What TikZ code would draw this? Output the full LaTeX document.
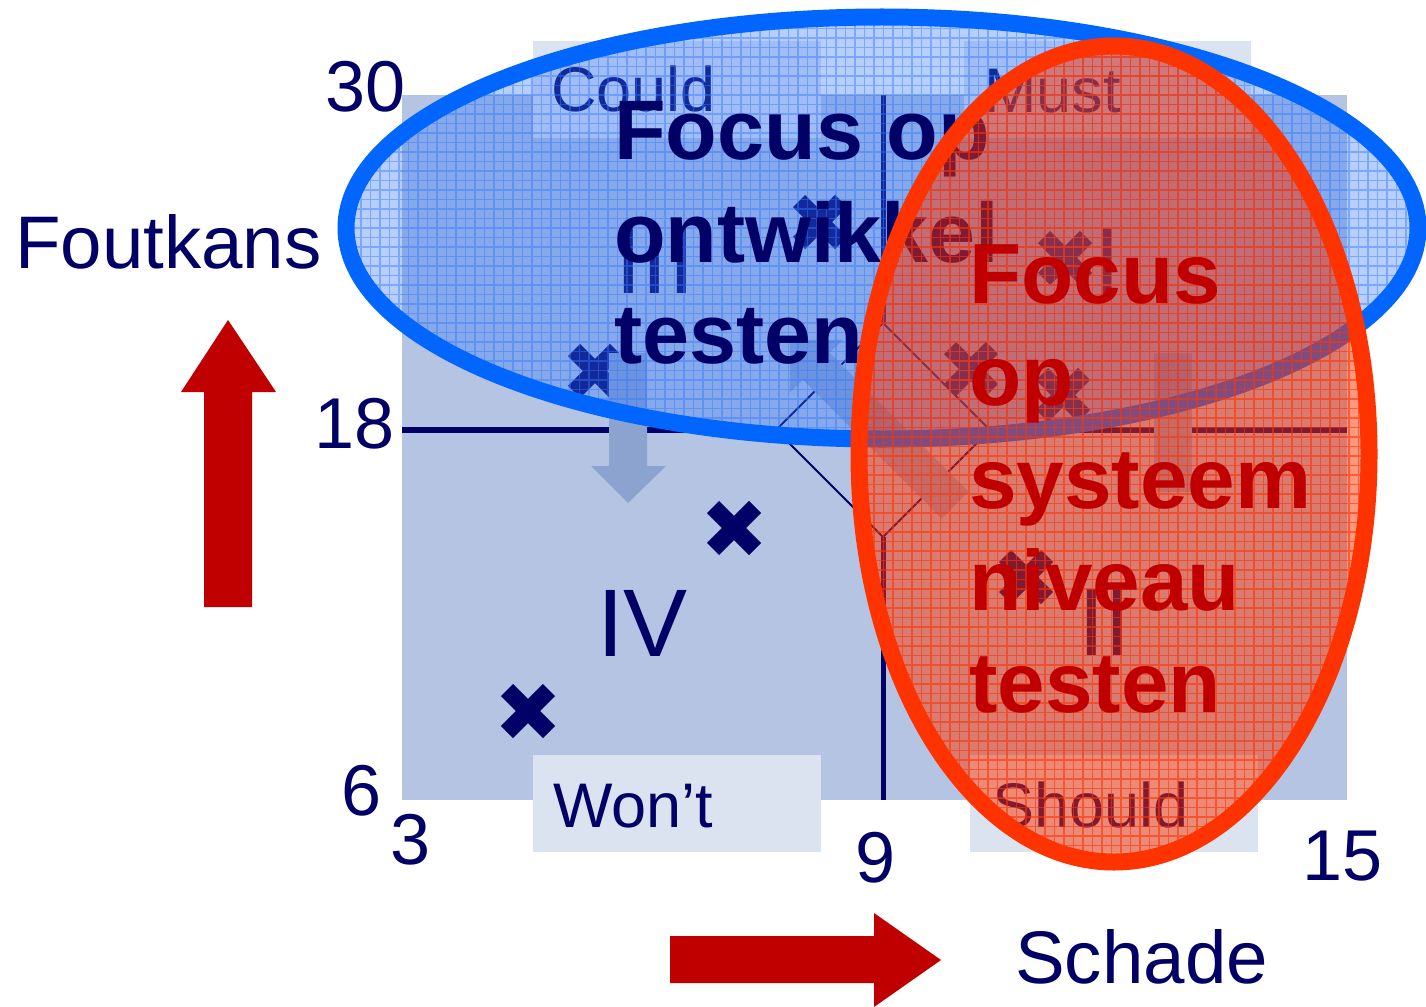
\documentclass[tikz,border=0pt]{standalone}
\usepackage{fontspec}
\setmainfont{Liberation Sans}
\definecolor{navy}{HTML}{000066}
\definecolor{sqc}{HTML}{B4C4E2}
\definecolor{boxc}{HTML}{DCE3F0}
\definecolor{arrowc}{HTML}{8CA3CF}
\definecolor{darkred}{HTML}{C00000}
\definecolor{bluestroke}{HTML}{0066FF}
\definecolor{bluefill}{HTML}{3377FF}
\definecolor{redstroke}{HTML}{FF3300}
\tikzset{
  lbl/.style={inner sep=0pt, anchor=base west, text=navy},
  tick/.style={inner sep=0pt, text=navy, font=\fontsize{72}{80}\selectfont},
  quad/.style={lbl, font=\fontsize{96}{100}\selectfont},
  boxlbl/.style={lbl, font=\fontsize{63}{70}\selectfont},
  bigblue/.style={lbl, font=\fontsize{84.5}{100}\selectfont\bfseries},
  bigred/.style={inner sep=0pt, anchor=base west, text=darkred, font=\fontsize{85.5}{100}\selectfont\bfseries},
  axisline/.style={draw=navy, line width=6pt},
  diamondline/.style={draw=navy, line width=2pt},
  crossmark/.pic={\draw[navy, line width=17pt] (-21,-21) -- (21,21) (-21,21) -- (21,-21);},
}
\begin{document}
\begin{tikzpicture}[x=1pt, y=-1pt]
\useasboundingbox (0,0) rectangle (1426,1006);
\fill[white] (0,0) rectangle (1426,1006);
% quadrant square
\fill[sqc] (402,95) rectangle (1347,800);
% axes
\draw[axisline] (402,430) -- (776,430) (990,430) -- (1347,430);
\draw[axisline, line width=5pt] (883,95) -- (883,323) (883,537) -- (883,800);
\draw[diamondline] (883,323) -- (990,430) -- (883,537) -- (776,430) -- cycle;
% MoSCoW boxes
\fill[boxc] (533,41) rectangle (821,138);
\fill[boxc] (964,41) rectangle (1251,138);
\fill[boxc] (533,755) rectangle (821,852);
\fill[boxc] (970,755) rectangle (1258,852);
\node[boxlbl] (could) at (551,112) {Could};
\node[boxlbl] (must) at (984,113) {Must};
\node[boxlbl] (wont) at (553,827) {Won’t};
\node[boxlbl] (should) at (992,827) {Should};
% quadrant numerals
\node[quad] (q3) at (615,293) {III};
\node[quad] (q1) at (1094,294) {I};
\node[quad] (q2) at (1078,655) {II};
\node[quad] (q4) at (597,656) {IV};
% crosses
\pic at (528,711) {crossmark};
\pic at (734,528) {crossmark};
\pic at (595,371) {crossmark};
\pic at (820,222) {crossmark};
\pic at (1065,258) {crossmark};
\pic at (971,369) {crossmark};
\pic at (1063,395) {crossmark};
\pic at (1026,577) {crossmark};
% light arrows
\fill[arrowc] (609,353) -- (647,353) -- (647,466) -- (666,466) -- (628,503) -- (591,466) -- (609,466) -- cycle;
\fill[arrowc] (1154,353) rectangle (1192,492);
\fill[arrowc] (968.4,491.6) -- (829.6,352.8) -- (842.7,339.7) -- (790,340) -- (789.7,392.7) -- (802.8,379.6) -- (941.6,518.4) -- cycle;
% red axis arrows
\fill[darkred] (204,607) -- (204,392) -- (181,392) -- (228,320) -- (276,392) -- (252,392) -- (252,607) -- cycle;
\fill[darkred] (670,936) -- (874,936) -- (874,913) -- (941,960) -- (874,1007) -- (874,983) -- (670,983) -- cycle;
% axis labels
\node[lbl, font=\fontsize{74.5}{80}\selectfont] (foutkans) at (15,268) {Foutkans};
\node[lbl, font=\fontsize{74.5}{80}\selectfont] (schade) at (1015,983) {Schade};
\node[tick, anchor=base east] (t30) at (406,112) {30};
\node[tick, anchor=base east] (t18) at (395,448) {18};
\node[tick, anchor=base east] (t6) at (382,815) {6};
\node[tick, anchor=base west] (t3) at (390,864) {3};
\node[tick, anchor=base] (t9) at (876,882) {9};
\node[tick, anchor=base west] (t15) at (1302,880) {15};
% blue ellipse
\fill[bluefill, fill opacity=0.35] (882,228) ellipse [x radius=536pt, y radius=211pt];
\begin{scope}
\clip (882,228) ellipse [x radius=536pt, y radius=211pt];
\draw[bluefill, opacity=0.45, line width=1.2pt, step=9.5pt] (330,0) grid (1440,460);
\end{scope}
\draw[bluestroke, line width=17pt] (882,228) ellipse [x radius=536pt, y radius=211pt];
\node[bigblue] (b1) at (614,159) {Focus op};
\node[bigblue] (b2) at (614,262) {ontwikkel};
\node[bigblue] (b3) at (614,363) {testen};
% red ellipse
\fill[redstroke, fill opacity=0.5] (1114,454) ellipse [x radius=255pt, y radius=408pt];
\begin{scope}
\clip (1114,454) ellipse [x radius=255pt, y radius=408pt];
\draw[redstroke, opacity=0.6, line width=1.2pt, step=9.5pt] (850,40) grid (1380,870);
\end{scope}
\draw[redstroke, line width=17pt] (1114,454) ellipse [x radius=255pt, y radius=408pt];
\node[bigred] (r1) at (969,303) {Focus};
\node[bigred] (r2) at (969,405) {op};
\node[bigred] (r3) at (969,508) {systeem};
\node[bigred] (r4) at (969,610) {niveau};
\node[bigred] (r5) at (969,712) {testen};
\end{tikzpicture}
\end{document}
